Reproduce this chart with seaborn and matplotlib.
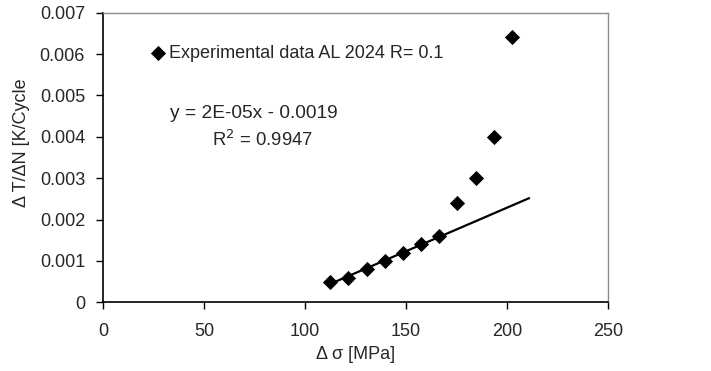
import numpy as np
import pandas as pd
import seaborn as sns
import matplotlib.pyplot as plt

# data
stress_range = [112.5, 121.5, 130.5, 139.5, 148.5, 157.5, 166.5, 175.5, 184.5, 193.5, 202.5]
heating_rate = [0.0005, 0.0006, 0.0008, 0.0010, 0.0012, 0.0014, 0.0016, 0.0024, 0.0030, 0.0040, 0.0064]
n_fit = 7            # trendline fitted on the linear part only
trend_end = 211      # forward forecast of the trendline
x_ticks = [0, 50, 100, 150, 200, 250]
y_ticks = [0, 0.001, 0.002, 0.003, 0.004, 0.005, 0.006, 0.007]
y_tick_labels = ["0", "0.001", "0.002", "0.003", "0.004", "0.005", "0.006", "0.007"]

df = pd.DataFrame({"x": stress_range, "y": heating_rate})

# linear trendline
slope, intercept = np.polyfit(df["x"][:n_fit], df["y"][:n_fit], 1)
pred = slope * df["x"][:n_fit] + intercept
r2 = 1 - ((df["y"][:n_fit] - pred) ** 2).sum() / ((df["y"][:n_fit] - df["y"][:n_fit].mean()) ** 2).sum()
df_trend = pd.DataFrame({"x": [df["x"].iloc[0], trend_end]})
df_trend["y"] = slope * df_trend["x"] + intercept

sns.set_style("white")
plt.rcParams["font.family"] = ["Liberation Sans", "DejaVu Sans"]

fig = plt.figure(figsize=(7.11, 3.71), dpi=100)
ax = fig.add_axes([0.145, 0.185, 0.71, 0.781])

sns.lineplot(data=df_trend, x="x", y="y", color="black", lw=1.6, ax=ax)
sns.scatterplot(data=df, x="x", y="y", marker="D", color="black", s=60,
                edgecolor="black", linewidth=0, ax=ax, zorder=3,
                label="Experimental data AL 2024 R= 0.1")

ax.set_xlim(0, 250)
ax.set_ylim(0, 0.007)
ax.set_xticks(x_ticks)
ax.set_yticks(y_ticks)
ax.set_yticklabels(y_tick_labels)
ax.tick_params(axis="both", direction="out", length=5, width=1, color="black",
               labelsize=13, left=True, bottom=True)
ax.tick_params(axis="x", pad=10)
ax.tick_params(axis="y", pad=8)

for side in ["left", "bottom"]:
    ax.spines[side].set_color("black")
    ax.spines[side].set_linewidth(1.2)
for side in ["top", "right"]:
    ax.spines[side].set_color("#8c8c8c")
    ax.spines[side].set_linewidth(1.0)

ax.set_xlabel("Δ σ [MPa]", fontsize=13, labelpad=4)
ax.set_ylabel("Δ T/ΔN [K/Cycle", fontsize=13)
ax.yaxis.set_label_coords(-0.145, 0.55)

ax.legend(loc="upper left", bbox_to_anchor=(0.055, 0.945), frameon=False,
          fontsize=13, handletextpad=0.0, handlelength=1.2, markerscale=1.0)

ax.text(0.133, 0.635, "y = 2E-05x - 0.0019", transform=ax.transAxes, fontsize=13.8)
ax.text(0.215, 0.54, f"R$^2$ = {r2:.4f}", transform=ax.transAxes, fontsize=13.3)

fig.savefig("out.png", dpi=100)
